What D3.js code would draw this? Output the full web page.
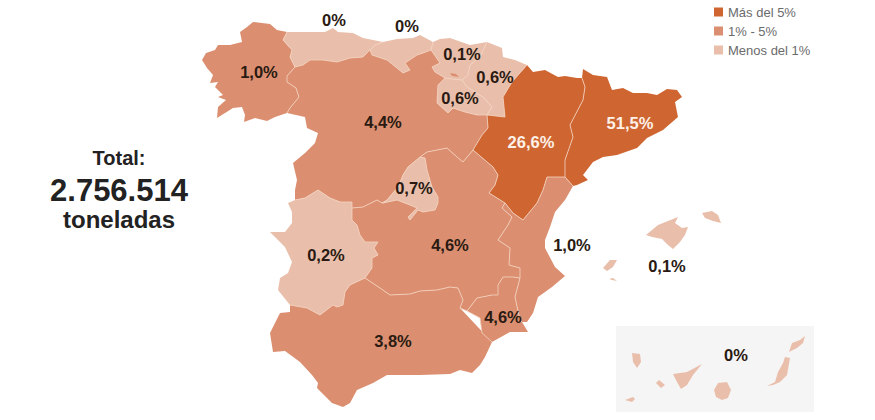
<!DOCTYPE html>
<html lang="es">
<head>
    <meta charset="UTF-8">
    <title>Toneladas por comunidad</title>
    <script src="https://d3js.org/d3.v7.min.js"></script>
    <style>
        body { margin: 0; background: #fff; }
        text { font-family: "Liberation Sans Narrow", "Liberation Sans", sans-serif; }
    </style>
</head>
<body>
    <script>
    var width = 875;
    var height = 420;

    // data
    var regionNames = ["Galicia", "Asturias", "Cantabria", "País Vasco", "Navarra", "La Rioja", "Castilla y León", "Madrid", "Aragón", "Cataluña", "Extremadura", "Castilla-La Mancha", "C. Valenciana", "Murcia", "Andalucía", "Baleares", "Canarias"];
    var regionShares = [1.0, 0, 0, 0.1, 0.6, 0.6, 4.4, 0.7, 26.6, 51.5, 0.2, 4.6, 1.0, 4.6, 3.8, 0.1, 0];
    var legendLabels = ["Más del 5%", "1% - 5%", "Menos del 1%"];
    var totalLines = ["Total:", "2.756.514", "toneladas"];

    // shared borders (same idea as topojson arcs)
    var arcs = {
        galiciaCoast: [[287,32],[277,30],[270,24],[262,23],[253,22],[247,27],[240,32],[242,42],[230,45],[218,45],[215,50],[206,53],[202,60],[207,68],[213,75],[210,83],[218,82],[215,87],[223,95],[218,97],[226,100],[218,107],[217,118],[233,108],[242,107],[245,115],[244,122],[255,118],[267,121],[275,117],[287,113]],
        galiciaCyl: [[287,113],[290,108],[299,97],[296,88],[287,82],[287,76],[295,67]],
        galiciaAsturias: [[295,67],[290,57],[292,50],[283,40],[287,32]],
        asturiasCoast: [[287,32],[307,32],[325,32],[333,28],[338,32],[353,33],[363,38],[383,42]],
        asturiasCantabria: [[383,42],[375,45],[370,50]],
        asturiasCyl: [[370,50],[363,57],[350,58],[337,62],[323,60],[310,60],[303,65],[295,67]],
        cantabriaCoast: [[383,42],[397,39],[413,38],[420,35],[433,42]],
        cantabriaBasque: [[433,42],[431,50]],
        cantabriaCyl: [[431,50],[423,53],[417,55],[405,63],[410,70],[403,73],[397,68],[387,60],[372,55],[370,50]],
        basqueCoast: [[433,42],[440,39],[450,38],[470,45],[487,42]],
        basqueNavarra: [[487,42],[480,57],[470,65],[468,75],[462,80]],
        basqueRioja: [[445,78],[452,79],[462,80]],
        basqueCyl: [[431,50],[440,63],[432,67],[435,72],[445,78]],
        navarraOuter: [[487,42],[502,48],[503,57],[515,60],[527,65]],
        navarraAragon: [[527,65],[512,82],[503,97],[505,117],[487,115]],
        navarraRioja: [[462,80],[467,87],[483,97],[492,107],[487,115]],
        riojaCyl: [[445,78],[438,85],[437,103],[448,113],[453,108],[465,112],[477,115],[487,115]],
        aragonCyl: [[487,115],[488,128],[482,135],[473,150]],
        cylClm: [[473,150],[463,162],[457,157],[447,148],[437,150],[427,152],[420,157]],
        cylMadrid: [[420,157],[408,167],[403,175],[398,187],[387,200],[382,203]],
        cylClm2: [[382,203],[377,200],[363,207],[352,208]],
        cylOuter: [[287,113],[305,117],[307,128],[318,133],[315,143],[305,153],[293,163],[297,180],[295,190],[295,200]],
        cylExtremadura: [[352,208],[352,202],[340,202],[330,198],[318,190],[305,198],[295,200]],
        extWest: [[295,200],[288,203],[292,212],[292,223],[285,232],[270,232],[285,247],[292,262],[288,273],[280,278],[278,290],[290,305]],
        extAndalucia: [[290,305],[307,308],[320,315],[333,305],[337,307],[343,305],[345,292],[350,285],[365,278]],
        extClm: [[365,278],[372,268],[372,258],[378,255],[374,248],[378,242],[365,242],[360,235],[357,225],[352,220],[352,208]],
        clmMadrid: [[420,157],[425,158],[427,170],[432,187],[438,197],[438,203],[435,210],[423,212],[418,210],[410,220],[408,217],[417,208],[410,205],[397,200],[383,203],[382,203]],
        clmAndalucia: [[365,278],[380,288],[390,295],[410,294],[420,291],[437,290],[450,287],[458,288],[463,300],[460,308],[467,311]],
        clmMurcia: [[467,311],[477,298],[492,295],[498,295],[498,285],[503,277],[513,277],[520,278]],
        clmValencia: [[520,278],[520,268],[509,265],[510,248],[498,240],[508,225],[512,217],[502,208],[505,203]],
        aragonClm: [[473,150],[493,167],[498,175],[495,185],[489,193],[505,203]],
        aragonValencia: [[505,203],[513,213],[523,220],[537,203],[543,190],[547,177],[565,177]],
        aragonTop: [[527,65],[533,72],[545,70],[558,77],[565,76],[577,78],[582,78]],
        aragonCatalonia: [[582,78],[585,87],[583,100],[570,125],[573,137],[565,160],[565,177]],
        catOuter: [[582,78],[583,69],[593,75],[607,77],[612,90],[623,88],[633,93],[647,93],[657,95],[667,89],[677,90],[682,97],[675,102],[678,117],[663,130],[647,138],[637,148],[617,155],[603,157],[593,162],[583,175],[588,180],[577,185],[573,186]],
        catValencia: [[573,186],[565,177]],
        valCoast: [[573,186],[565,200],[555,212],[550,227],[545,240],[545,248],[555,267],[565,276],[552,287],[538,297],[533,313],[527,322],[522,322]],
        murciaValencia: [[522,322],[520,320],[515,297],[520,278]],
        murciaCoast: [[492,342],[510,332],[528,332],[522,322]],
        andMurcia: [[492,342],[482,333],[480,318],[467,311]],
        andCoast: [[290,305],[290,312],[280,313],[270,333],[273,352],[285,351],[300,362],[312,375],[318,383],[317,388],[332,403],[343,407],[350,403],[357,390],[373,383],[387,375],[420,375],[450,374],[460,370],[472,373],[480,365],[485,357],[492,342]]
    };

    // rings per region, "-" means the arc runs backwards
    var regionRings = [
        [["galiciaCoast", "galiciaCyl", "galiciaAsturias"]],
        [["asturiasCoast", "asturiasCantabria", "asturiasCyl", "galiciaAsturias"]],
        [["cantabriaCoast", "cantabriaBasque", "cantabriaCyl", "-asturiasCantabria"]],
        [["basqueCoast", "basqueNavarra", "-basqueRioja", "-basqueCyl", "-cantabriaBasque"]],
        [["navarraOuter", "navarraAragon", "-navarraRioja", "-basqueNavarra"]],
        [["riojaCyl", "-navarraRioja", "-basqueRioja"]],
        [["cylOuter", "-cylExtremadura", "-cylClm2", "-cylMadrid", "-cylClm", "-aragonCyl", "-riojaCyl", "-basqueCyl", "cantabriaCyl", "asturiasCyl", "-galiciaCyl"]],
        [["cylMadrid", "-clmMadrid"]],
        [["aragonTop", "aragonCatalonia", "-aragonValencia", "-aragonClm", "-aragonCyl", "-navarraAragon"]],
        [["catOuter", "catValencia", "-aragonCatalonia"]],
        [["cylExtremadura", "extWest", "extAndalucia", "extClm"]],
        [["cylClm2", "-extClm", "clmAndalucia", "clmMurcia", "clmValencia", "-aragonClm", "cylClm", "clmMadrid"]],
        [["valCoast", "murciaValencia", "clmValencia", "aragonValencia", "-catValencia"]],
        [["andMurcia", "clmMurcia", "-murciaValencia", "-murciaCoast"]],
        [["andCoast", "-andMurcia", "-clmAndalucia", "-extAndalucia"]]
    ];

    var interiorArcs = ["galiciaCyl", "galiciaAsturias", "asturiasCantabria", "asturiasCyl", "cantabriaBasque", "cantabriaCyl", "basqueNavarra", "basqueRioja", "basqueCyl", "navarraAragon", "navarraRioja", "riojaCyl", "aragonCyl", "cylClm", "cylMadrid", "cylClm2", "cylExtremadura", "extAndalucia", "extClm", "clmMadrid", "clmAndalucia", "clmMurcia", "clmValencia", "aragonClm", "aragonValencia", "aragonCatalonia", "catValencia", "murciaValencia", "andMurcia"];

    // islands and enclaves that are not part of a shared border
    var baleares = [
        [[646,235],[658,225],[678,217],[675,223],[682,228],[688,227],[685,235],[680,242],[673,249],[668,245],[662,239],[652,237]],
        [[702,213],[712,211],[718,215],[721,223],[713,221],[705,218]],
        [[603,268],[610,260],[617,260],[613,267],[607,271]],
        [[609,279],[613,278],[617,281],[612,280]]
    ];
    var canarias = [
        [[632,353],[640,354],[641,362],[637,368],[633,362]],
        [[656,383],[659,380],[665,385],[661,388]],
        [[625,400],[633,397],[635,399],[632,402]],
        [[673,374],[687,372],[702,364],[693,375],[687,385],[681,389],[677,382]],
        [[718,383],[727,382],[731,390],[728,398],[722,400],[716,397],[714,390]],
        [[785,357],[790,358],[787,375],[780,382],[773,385],[767,386],[775,382],[778,372],[783,363]],
        [[792,343],[800,340],[805,336],[803,343],[797,348],[789,352]]
    ];
    var enclaves = { "Castilla y León": [[450,73],[456,74],[459,77],[452,76]], "Navarra": [[511,89],[515,88],[515,91],[511,91]] };

    // where each share is written, same order as regionNames
    var labelAt = [[259,72],[334,20],[407,26],[462,54],[495,77],[460,98],[383,122],[414,188],[531,142],[630,123],[326,255],[450,245],[572,245],[503,317],[393,341],[667,266],[736,355]];

    function closeRing(r) { return r.concat([r[0]]); }

    function stitch(names) {
        var pts = [];
        names.forEach(function(n) {
            var a = n[0] == "-" ? arcs[n.slice(1)].slice().reverse() : arcs[n];
            pts = pts.concat(pts.length ? a.slice(1) : a);
        });
        return pts;
    }

    var features = regionNames.map(function(name, i) {
        var polys;
        if (name == "Baleares") polys = baleares.map(function(r) { return [closeRing(r)]; });
        else if (name == "Canarias") polys = canarias.map(function(r) { return [closeRing(r)]; });
        else polys = regionRings[i].map(function(r) { return [stitch(r)]; });
        if (enclaves[name]) polys.push([closeRing(enclaves[name])]);
        return { type: "Feature", properties: { name: name, share: regionShares[i] }, geometry: { type: "MultiPolygon", coordinates: polys } };
    });

    var svg = d3.select("body").append("svg").attr("width", width).attr("height", height);

    // scales
    var colorRange = ["#e9bfab", "#db8f70", "#cf6632"];
    var color = d3.scaleThreshold().domain([1, 5]).range(colorRange);
    var inkColor = d3.scaleThreshold().domain([5]).range(["#2a1a12", "#fdf1e8"]);
    var projection = d3.geoIdentity();
    var path = d3.geoPath(projection);
    var es = d3.formatLocale({ decimal: ",", thousands: ".", grouping: [3], currency: ["", "€"] });
    var fmt = es.format(".1f");

    // canarias box
    svg.append("rect").attr("x", 616).attr("y", 326).attr("width", 198).attr("height", 86).attr("fill", "#f5f5f5");

    svg.append("g").selectAll("path")
        .data(features)
        .enter()
        .append("path")
        .attr("d", path)
        .attr("fill", function(d) { return color(d.properties.share); });

    // borders between regions
    svg.append("path")
        .attr("d", path({ type: "MultiLineString", coordinates: interiorArcs.map(function(n) { return arcs[n]; }) }))
        .attr("fill", "none")
        .attr("stroke", "#f4d3c0")
        .attr("stroke-width", 0.8);

    // share labels
    svg.append("g").selectAll("text")
        .data(features)
        .enter()
        .append("text")
        .attr("x", function(d, i) { return labelAt[i][0]; })
        .attr("y", function(d, i) { return labelAt[i][1]; })
        .attr("dy", "0.36em")
        .attr("text-anchor", "middle")
        .attr("font-size", 16.5)
        .attr("font-weight", "bold")
        .attr("fill", function(d) { return d.properties.name == "C. Valenciana" ? "#2a1a12" : inkColor(d.properties.share); })
        .text(function(d) { return d.properties.share == 0 ? "0%" : fmt(d.properties.share) + "%"; });

    // legend
    var legendY = d3.scalePoint().domain(legendLabels).range([12, 50]);
    var legendColor = d3.scaleOrdinal().domain(legendLabels).range(colorRange.slice().reverse());
    var legend = svg.append("g").selectAll("g")
        .data(legendLabels)
        .enter()
        .append("g")
        .attr("transform", function(d) { return "translate(714," + legendY(d) + ")"; });
    legend.append("rect").attr("y", -4.5).attr("width", 9).attr("height", 9).attr("fill", function(d) { return legendColor(d); });
    legend.append("text").attr("x", 14).attr("dy", "0.36em").attr("font-size", 13).attr("fill", "#6b6b6b").text(function(d) { return d; });

    // total block
    var totalSizes = [20, 31, 24];
    var totalY = [158, 190, 219];
    svg.append("g").selectAll("text")
        .data(totalLines)
        .enter()
        .append("text")
        .attr("x", 119)
        .attr("y", function(d, i) { return totalY[i]; })
        .attr("dy", "0.36em")
        .attr("text-anchor", "middle")
        .attr("font-size", function(d, i) { return totalSizes[i]; })
        .attr("font-weight", "bold")
        .attr("fill", "#222")
        .text(function(d) { return d; });
    </script>
</body>
</html>
